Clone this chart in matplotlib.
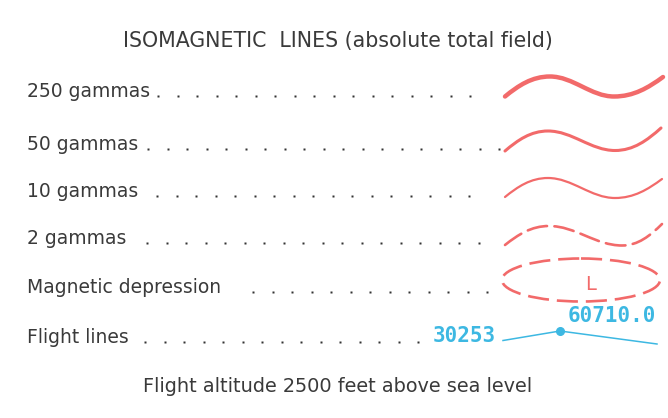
import numpy as np
import matplotlib.pyplot as plt
from matplotlib.path import Path
from matplotlib.patches import PathPatch, Ellipse

# Textos de la leyenda
titulo = "ISOMAGNETIC  LINES (absolute total field)"
pie = "Flight altitude 2500 feet above sea level"
etiquetas = ["250 gammas", "50 gammas", "10 gammas", "2 gammas",
             "Magnetic depression", "Flight lines"]
linea_inicio = "30253"
linea_valor = "60710.0"
depresion = "L"

# Disposicion (pixeles)
base_y = [97, 150, 197, 244, 293, 343]
puntos_x = [(158, 488), (148, 503), (157, 486), (147, 496), (253, 487), (145, 420)]
# nodos de cada onda: inicio, cresta, valle, final
ondas = [
    [(505, 96.5), (550, 76.5), (614, 96.5), (663, 77)],
    [(505, 151), (548, 131), (615, 150.5), (661, 128)],
    [(505, 197), (548, 178), (615, 198), (662, 179)],
    [(505, 245), (549, 226), (622, 245.5), (662, 224)],
]
grosores = [3.2, 2.2, 1.6, 1.9]

rojo = '#f26a6a'
azul = '#3db8e2'
gris = '#3a3a3a'

fig = plt.figure(figsize=(6.68, 4.18), dpi=100)
ax = fig.add_axes([0, 0, 1, 1])
ax.set_xlim(0, 668)
ax.set_ylim(418, 0)
ax.axis('off')

fuente = 'DejaVu Sans'
ax.text(338, 47, titulo, ha='center', va='baseline', fontsize=14.8,
        color=gris, family=fuente)
ax.text(338, 392, pie, ha='center', va='baseline', fontsize=13.9,
        color=gris, family=fuente)

for etq, y, (x0, x1) in zip(etiquetas, base_y, puntos_x):
    ax.text(27, y, etq, ha='left', va='baseline', fontsize=13.5,
            color=gris, family=fuente)
    xs = np.arange(x0, x1 + 1, 19.5)
    ax.plot(xs, [y - 1] * len(xs), ls='none', marker='s', ms=1.5,
            color='#333333', mec='none')


def onda(nodos):
    (sx, sy), (px, py), (tx, ty), (ex, ey) = nodos
    d1, d2, d3 = px - sx, tx - px, ex - tx
    k = 0.36
    verts = [(sx, sy),
             (sx + d1 * 0.3, sy + (py - sy) * 0.55), (px - d1 * 0.4, py), (px, py),
             (px + d2 * k, py), (tx - d2 * k, ty), (tx, ty),
             (tx + d3 * 0.4, ty), (ex - d3 * 0.3, ey + (ty - ey) * 0.55), (ex, ey)]
    codes = [Path.MOVETO] + [Path.CURVE4] * 9
    return Path(verts, codes)


for i, (nodos, lw) in enumerate(zip(ondas, grosores)):
    estilo = (0, (7.5, 2.8)) if i == 3 else '-'
    ax.add_patch(PathPatch(onda(nodos), fill=False, ec=rojo, lw=lw,
                           ls=estilo, capstyle='round'))

# depresion magnetica
ax.add_patch(Ellipse((581, 280), 158, 43, fill=False, ec=rojo, lw=1.9,
                     ls=(0, (8.0, 3.0))))
ax.text(591, 290, depresion, ha='center', va='baseline', fontsize=14,
        color=rojo, family=fuente)

# linea de vuelo
ax.plot([503, 560, 657], [340.5, 331, 344], color=azul, lw=1.1)
ax.plot([560], [331], marker='o', ms=5.5, color=azul)
ax.text(433, 341.5, linea_inicio, ha='left', va='baseline', fontsize=15,
        color=azul, family='DejaVu Sans Mono', weight='bold')
ax.text(656, 321.5, linea_valor, ha='right', va='baseline', fontsize=15,
        color=azul, family='DejaVu Sans Mono', weight='bold')

fig.savefig('out.png', dpi=100)
